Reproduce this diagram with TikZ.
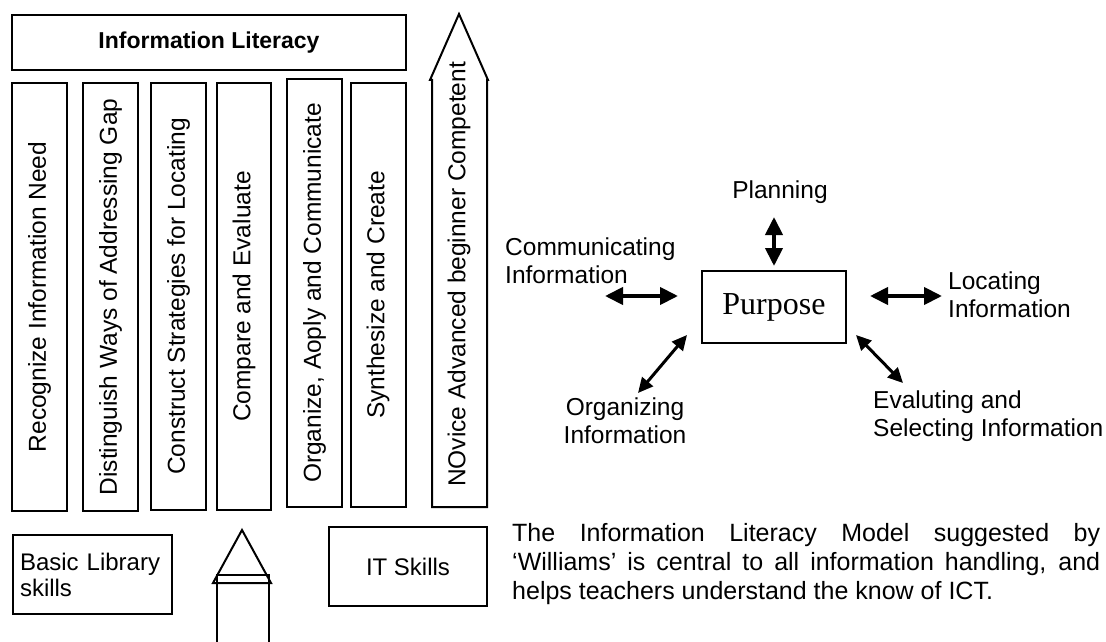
\documentclass[tikz,border=0pt]{standalone}
\usepackage{fontspec}
\setmainfont{Liberation Sans}
\newfontfamily\purposefont{Liberation Serif}
\usetikzlibrary{arrows.meta}

\begin{document}
\begin{tikzpicture}[x=1pt,y=-1pt,
		colbox/.style={draw, line width=2pt, rotate=90, minimum width=428pt, minimum height=55pt, inner sep=0pt, font=\fontsize{24.5}{28}\selectfont},
		skillbox/.style={draw, line width=2pt, minimum width=158pt, minimum height=79pt, font=\fontsize{24}{26}\selectfont},
		lbl/.style={inner sep=0pt, font=\fontsize{24.5}{28}\selectfont},
		dblarrow/.style={{Triangle[length=18pt,width=17pt]}-{Triangle[length=18pt,width=17pt]}, line width=4pt},
		diagarrow/.style={{Triangle[length=15pt,width=14pt]}-{Triangle[length=15pt,width=14pt]}, line width=3pt}]
		\useasboundingbox (0,0) rectangle (1106,642);
		
		% left half: the literacy columns
		\node[draw, line width=2pt, minimum width=394pt, minimum height=55pt, font=\bfseries\fontsize{23}{26}\selectfont] (title) at (209,42.5) {Information Literacy};
		\node[colbox] (recog) at (39.5,297) {Recognize Information Need};
		\node[colbox] (distin) at (110.5,297) {Distinguish Ways of Addressing Gap};
		\node[colbox, minimum width=427pt] (constr) at (178.5,296.5) {Construct Strategies for Locating};
		\node[colbox, minimum width=427pt, minimum height=54pt] (compare) at (244,296.5) {Compare and Evaluate};
		\node[colbox] (organize) at (314.5,293) {Organize, Aoply and Communicate};
		\node[colbox, minimum width=424pt] (synth) at (378,295) {Synthesize and Create};
		
		\draw[line width=2pt] (432,507) -- (432,80) -- (430,80) -- (459,14) -- (488,80) -- (487,80) -- (487,507) -- cycle;
		\node[lbl, rotate=90, anchor=west] (novice) at (459,487) {NOvice Advanced beginner Competent};
		
		\node[skillbox, minimum width=159pt, text width=145pt, inner xsep=7pt, align=left] (basiclib) at (92.5,574.5) {Basic Library skills};
		\node[skillbox] (itskills) at (408,566.5) {IT Skills};
		\draw[line width=2pt] (242,530) -- (213,583) -- (271,583) -- cycle;
		\draw[line width=2pt] (217,642) -- (217,575) -- (269,575) -- (269,642);
		
		% right half: purpose and its five stages
		\node[draw, line width=2pt, minimum width=144pt, minimum height=72pt, font=\purposefont\fontsize{32}{36}\selectfont] (purpose) at (774,307) {Purpose};
		\node[lbl, anchor=base] (plan) at (780,198) {Planning};
		\node[lbl, anchor=base west, align=left] (comm) at (505,283) {Communicating\\Information};
		\node[lbl, anchor=base west, align=left] (loc) at (948,317) {Locating\\Information};
		\node[lbl, anchor=base, align=center] (org) at (625,443) {Organizing\\Information};
		\node[lbl, anchor=base west, align=left] (eval) at (873,436) {Evaluting and\\Selecting Information};
		
		\coordinate (plan-a) at (774,217);
		\coordinate (plan-b) at (774,266);
		\coordinate (comm-a) at (605,296);
		\coordinate (comm-b) at (678,296);
		\coordinate (loc-a) at (870,296);
		\coordinate (loc-b) at (942,296);
		\coordinate (org-a) at (638,393);
		\coordinate (org-b) at (687,335);
		\coordinate (eval-a) at (856,335);
		\coordinate (eval-b) at (903,383);
		\draw[dblarrow] (plan-a) -- (plan-b);
		\draw[dblarrow] (comm-a) -- (comm-b);
		\draw[dblarrow] (loc-a) -- (loc-b);
		\draw[diagarrow] (org-a) -- (org-b);
		\draw[diagarrow] (eval-a) -- (eval-b);
		
		\node[lbl, font=\fontsize{25}{29}\selectfont, text width=588pt, align=justify, anchor=base west] (williams) at (512,541) {The Information Literacy Model suggested by\linebreak `Williams' is central to all information handling, and\linebreak helps teachers understand the know of ICT.};
		
	\end{tikzpicture}
\end{document}
